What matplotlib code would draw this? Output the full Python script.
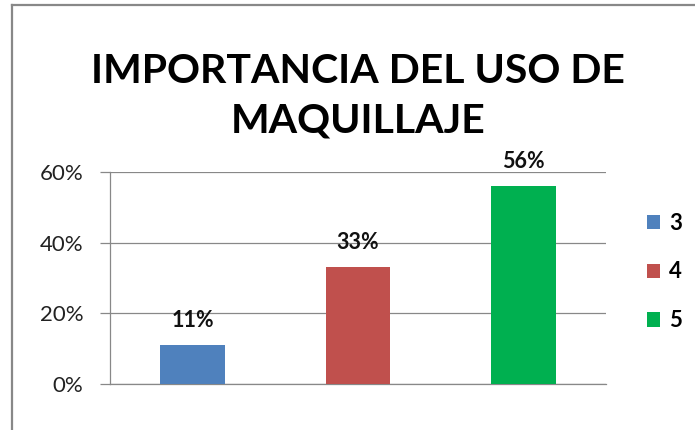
import matplotlib
matplotlib.use("Agg")
import matplotlib.pyplot as plt
from matplotlib.patches import Patch
from matplotlib.lines import Line2D

categories = ["3", "4", "5"]
values = [0.11, 0.33, 0.56]
labels = ["11%", "33%", "56%"]
colors = ["#4F81BD", "#C0504D", "#00B050"]
yticks = [0.0, 0.2, 0.4, 0.6]
ytick_labels = ["0%", "20%", "40%", "60%"]
title = "IMPORTANCIA DEL USO DE\nMAQUILLAJE"

plt.rcParams['font.family'] = ['Lato', 'DejaVu Sans']

W, H = 695, 430
fig = plt.figure(figsize=(W / 100, H / 100), dpi=100)
fig.patch.set_facecolor("white")

ax = fig.add_axes([110 / W, (H - 384) / H, (606 - 110) / W, (384 - 172) / H])

x = list(range(len(categories)))
bars = ax.bar(x, values, width=0.39, color=colors, zorder=3)
ax.set_xlim(-0.5, len(categories) - 0.5)
ax.set_ylim(0, 0.6)
ax.set_yticks(yticks)
ax.set_yticklabels(ytick_labels, fontsize=16, color="#222222")
ax.set_xticks([])
ax.tick_params(axis='y', length=7.2, width=0.9, color="#888888", pad=12)
ax.yaxis.grid(True, color="#888888", linewidth=0.9, zorder=0)
for s in ["top", "right"]:
    ax.spines[s].set_visible(False)
for s in ["left", "bottom"]:
    ax.spines[s].set_color("#888888")
    ax.spines[s].set_linewidth(0.9)

for xi, v, lab in zip(x, values, labels):
    ax.annotate(lab, (xi, v), xytext=(0, 13), textcoords="offset points",
                ha="center", va="baseline", fontsize=15.5, fontweight="bold",
                color="#111111")

handles = [Patch(facecolor=c, edgecolor="none") for c in colors]
fig.legend(handles, categories, loc="center left",
           bbox_to_anchor=(647 / W, (H - 272) / H), frameon=False,
           prop={'size': 16, 'weight': 'bold'}, handlelength=0.6,
           handleheight=0.6, handletextpad=0.4, labelspacing=1.25,
           borderpad=0, borderaxespad=0)

fig.text(358 / W, (H - 132) / H, title, ha="center", va="baseline",
         fontsize=29.5, fontweight="bold", linespacing=1.4, color="#000000",
         multialignment="center")

# chart border (top and left edges visible)
fig.add_artist(Line2D([12 / W, 12 / W], [0, (H - 5) / H], transform=fig.transFigure,
                      color="#888888", linewidth=1.6))
fig.add_artist(Line2D([12 / W, 1], [(H - 5) / H, (H - 5) / H], transform=fig.transFigure,
                      color="#888888", linewidth=1.6))

fig.savefig("out.png", dpi=100)
